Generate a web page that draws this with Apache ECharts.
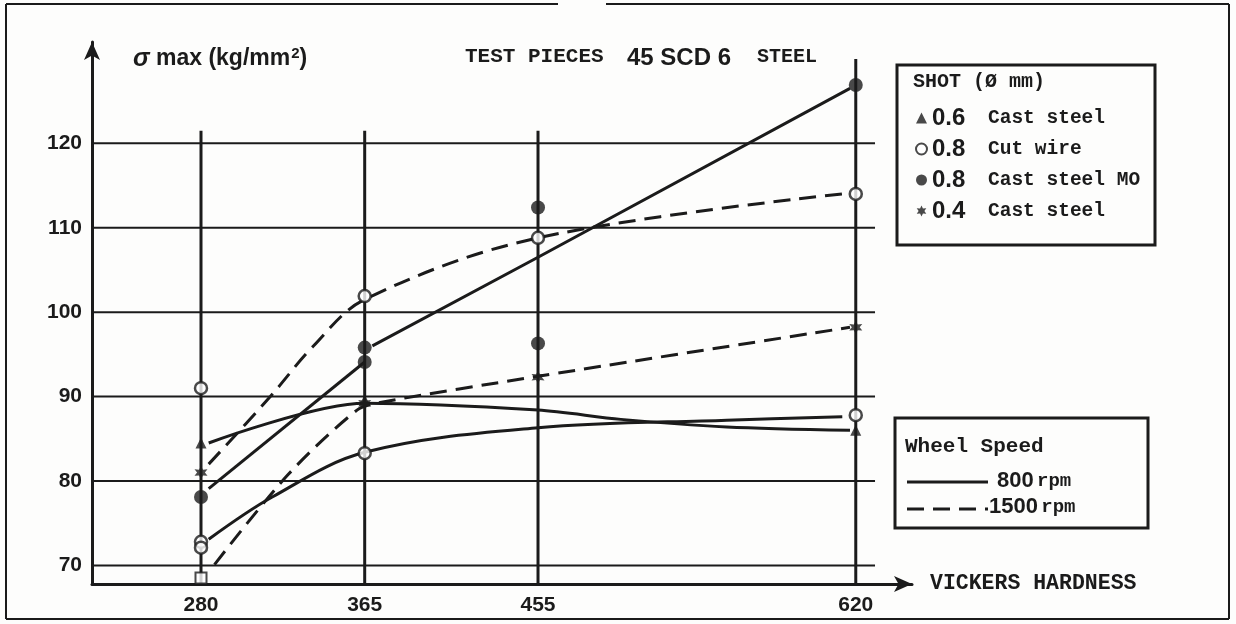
<!DOCTYPE html>
<html>
<head>
<meta charset="utf-8">
<script src="https://cdn.jsdelivr.net/npm/echarts@6/dist/echarts.min.js"></script>
<style>
html,body{margin:0;padding:0;background:#fdfdfc;}
#chart{width:1236px;height:624px;}
</style>
</head>
<body>
<div id="chart"></div>
<script>
// ---- tick values ----
const xTicks = [280, 365, 455, 620];
const yTicks = [70, 80, 90, 100, 110, 120];

// ---- measured points (markers) ----
const castSteel06 = [[280, 84.5], [365, 89.6], [620, 86.0]];
const cutWire08 = [[280, 91.0], [280, 72.8], [280, 72.1], [365, 101.9], [365, 83.3], [455, 108.8], [620, 114.0], [620, 87.8]];
const castSteelMO08 = [[280, 78.1], [365, 95.8], [365, 94.1], [455, 112.4], [455, 96.3], [620, 126.9]];
const castSteel04 = [[280, 81.0], [365, 89.2], [455, 92.3], [620, 98.2]];
const squarePoint = [[280, 68.5]];

// ---- curves (800 rpm solid, 1500 rpm dashed) ----
const mo800a = [[284, 79.1], [365, 94.1]];
const mo800b = [[369, 96.0], [455, 106.5], [617, 126.5]];
const cast06_800 = [[284, 84.5], [365, 89.2], [455, 88.4], [498, 87.3], [553, 86.4], [617, 86.0]];
const cut08_800 = [[284, 73.1], [317, 78.1], [365, 83.4], [455, 86.3], [553, 87.2], [613, 87.6]];
const cut08_1500 = [[284, 82.0], [316, 90.0], [338, 95.9], [365, 101.5], [455, 108.8], [617, 114.1]];
const cast04_1500 = [[287, 70.1], [325, 80.7], [361, 88.4], [373, 89.3], [455, 92.4], [617, 98.2]];

const INK = '#1b1b1b';
const X_MIN = 223.4, X_MAX = 649.2, Y_MIN = 67.8, Y_MAX = 132.0;
const H_END = 630;           // right end of horizontal rules
const V_TOP = 121.5, V_TOP_LAST = 130; // top end of vertical rules
const MONO = '"Liberation Mono", "DejaVu Sans Mono", monospace';
const SANS = '"Liberation Sans", Arial, sans-serif';

const series = [];
// horizontal rules
yTicks.forEach(v => series.push({
  type: 'line', data: [[X_MIN, v], [H_END, v]], symbol: 'none', silent: true, z: 1,
  lineStyle: { color: INK, width: 2 }, animation: false
}));
// vertical rules
xTicks.forEach((v, i) => series.push({
  type: 'line', data: [[v, Y_MIN], [v, i === xTicks.length - 1 ? V_TOP_LAST : V_TOP]], symbol: 'none', silent: true, z: 1,
  lineStyle: { color: INK, width: 3 }, animation: false
}));
function curve(data, dashed, smooth) {
  return { type: 'line', data, symbol: 'none', smooth: smooth, z: 5, animation: false,
    lineStyle: { color: INK, width: 3, type: dashed ? [17, 9] : 'solid' } };
}
series.push(curve(mo800a, false, false));
series.push(curve(mo800b, false, false));
series.push(curve(cast06_800, false, 0.3));
series.push(curve(cut08_800, false, 0.35));
series.push(curve(cut08_1500, true, 0.35));
series.push(curve(cast04_1500, true, 0.3));

const starPath = 'path://M0,-10 L2.6,-4.5 L8.7,-5 L5.2,0 L8.7,5 L2.6,4.5 L0,10 L-2.6,4.5 L-8.7,5 L-5.2,0 L-8.7,-5 L-2.6,-4.5 Z';
series.push({ name: '0.6 Cast steel', type: 'scatter', data: castSteel06, symbol: 'triangle', symbolSize: 11, z: 10,
  itemStyle: { color: INK }, animation: false });
series.push({ name: '0.8 Cut wire', type: 'scatter', data: cutWire08, symbol: 'circle', symbolSize: 12, z: 10,
  itemStyle: { color: '#ffffff', borderColor: INK, borderWidth: 2.5 }, animation: false });
series.push({ name: '0.8 Cast steel MO', type: 'scatter', data: castSteelMO08, symbol: 'circle', symbolSize: 14, z: 10,
  itemStyle: { color: INK }, animation: false });
series.push({ name: '0.4 Cast steel', type: 'scatter', data: castSteel04, symbol: starPath, symbolSize: 13, z: 10,
  itemStyle: { color: INK }, animation: false });
series.push({ name: 'square', type: 'scatter', data: squarePoint, symbol: 'rect', symbolSize: 11, z: 10,
  itemStyle: { color: '#ffffff', borderColor: INK, borderWidth: 2 }, animation: false });

const chart = echarts.init(document.getElementById('chart'), null, { renderer: 'canvas' });
chart.setOption({
  backgroundColor: '#fdfdfc',
  animation: false,
  grid: { left: 92, right: 324, top: 42, bottom: 40, containLabel: false },
  xAxis: {
    type: 'value', min: X_MIN, max: X_MAX,
    name: 'VICKERS HARDNESS', nameLocation: 'end', nameGap: 18,
    nameTextStyle: { fontFamily: MONO, fontWeight: 'bold', fontSize: 21.5, color: INK, verticalAlign: 'middle' },
    axisLine: { show: true, lineStyle: { color: INK, width: 3 }, symbol: ['none', 'arrow'], symbolSize: [12, 18] },
    axisTick: { show: false },
    splitLine: { show: false },
    axisLabel: { customValues: xTicks, fontFamily: SANS, fontWeight: 'bold', fontSize: 21, color: INK, margin: 11 }
  },
  yAxis: {
    type: 'value', min: Y_MIN, max: Y_MAX,
    axisLine: { show: true, lineStyle: { color: INK, width: 3 }, symbol: ['none', 'arrow'], symbolSize: [12, 18] },
    axisTick: { show: false },
    splitLine: { show: false },
    axisLabel: { customValues: yTicks, fontFamily: SANS, fontWeight: 'bold', fontSize: 21, color: INK, margin: 10 }
  },
  legend: {
    data: ['0.6 Cast steel', '0.8 Cut wire', '0.8 Cast steel MO', '0.4 Cast steel'],
    orient: 'vertical', left: 910, top: 101, itemWidth: 11, itemHeight: 11, itemGap: 7,
    selectedMode: false,
    formatter: function (name) {
      const i = name.indexOf(' ');
      return '{n|' + name.slice(0, i) + '}{t|' + name.slice(i + 1) + '}';
    },
    textStyle: {
      color: INK,
      rich: {
        n: { fontFamily: SANS, fontSize: 24, fontWeight: 'bold', width: 56, lineHeight: 28, color: INK },
        t: { fontFamily: MONO, fontSize: 19.5, fontWeight: 'bold', lineHeight: 28, color: INK }
      }
    }
  },
  graphic: [
    // frame
    { type: 'line', shape: { x1: 6, y1: 4, x2: 558, y2: 4 }, style: { stroke: INK, lineWidth: 2 }, silent: true },
    { type: 'line', shape: { x1: 606, y1: 4, x2: 1229, y2: 4 }, style: { stroke: INK, lineWidth: 2 }, silent: true },
    { type: 'line', shape: { x1: 6, y1: 4, x2: 6, y2: 619 }, style: { stroke: INK, lineWidth: 2 }, silent: true },
    { type: 'line', shape: { x1: 6, y1: 619, x2: 1229, y2: 619 }, style: { stroke: INK, lineWidth: 2 }, silent: true },
    { type: 'line', shape: { x1: 1229, y1: 4, x2: 1229, y2: 619 }, style: { stroke: INK, lineWidth: 2 }, silent: true },
    // y axis name
    { type: 'text', x: 133, y: 59, silent: true,
      style: { text: '{s|σ} max (kg/mm{p|2})', verticalAlign: 'middle', fill: INK,
        font: 'bold 23px "Liberation Sans", Arial, sans-serif',
        rich: {
          s: { fontStyle: 'italic', fontWeight: 'bold', fontSize: 25, fontFamily: SANS, fill: INK },
          p: { fontWeight: 'bold', fontSize: 15, fontFamily: SANS, fill: INK, verticalAlign: 'top', padding: [0, 0, 10, 1] }
        } } },
    // title
    { type: 'text', x: 465, y: 57, silent: true,
      style: { text: 'TEST PIECES', verticalAlign: 'middle', fill: INK, font: 'bold 21px "Liberation Mono", monospace' } },
    { type: 'text', x: 627, y: 58, silent: true,
      style: { text: '45 SCD 6', verticalAlign: 'middle', fill: INK, font: 'bold 24px "Liberation Sans", Arial, sans-serif' } },
    { type: 'text', x: 757, y: 57, silent: true,
      style: { text: 'STEEL', verticalAlign: 'middle', fill: INK, font: 'bold 20px "Liberation Mono", monospace' } },
    // shot legend box
    { type: 'rect', shape: { x: 897, y: 65, width: 258, height: 180 }, style: { fill: 'none', stroke: INK, lineWidth: 3 }, silent: true, z: 0 },
    { type: 'text', x: 913, y: 82, silent: true,
      style: { text: 'SHOT (Ø mm)', verticalAlign: 'middle', fill: INK, font: 'bold 20px "Liberation Mono", monospace' } },
    // wheel speed legend box
    { type: 'rect', shape: { x: 895, y: 418, width: 253, height: 110 }, style: { fill: 'none', stroke: INK, lineWidth: 3 }, silent: true },
    { type: 'text', x: 905, y: 447, silent: true,
      style: { text: 'Wheel Speed', verticalAlign: 'middle', fill: INK, font: 'bold 21px "Liberation Mono", monospace' } },
    { type: 'line', shape: { x1: 907, y1: 482, x2: 988, y2: 482 }, style: { stroke: INK, lineWidth: 3 }, silent: true },
    { type: 'text', x: 997, y: 481, silent: true,
      style: { text: '{a|800} {b|rpm}', verticalAlign: 'middle', fill: INK,
        rich: { a: { fontFamily: SANS, fontWeight: 'bold', fontSize: 22, fill: INK }, b: { fontFamily: MONO, fontWeight: 'bold', fontSize: 19, fill: INK } } } },
    { type: 'line', shape: { x1: 907, y1: 509, x2: 988, y2: 509 }, style: { stroke: INK, lineWidth: 3, lineDash: [17, 9] }, silent: true },
    { type: 'text', x: 989, y: 507, silent: true,
      style: { text: '{a|1500} {b|rpm}', verticalAlign: 'middle', fill: INK,
        rich: { a: { fontFamily: SANS, fontWeight: 'bold', fontSize: 22, fill: INK }, b: { fontFamily: MONO, fontWeight: 'bold', fontSize: 19, fill: INK } } } }
  ],
  series: series
});
</script>
</body>
</html>
